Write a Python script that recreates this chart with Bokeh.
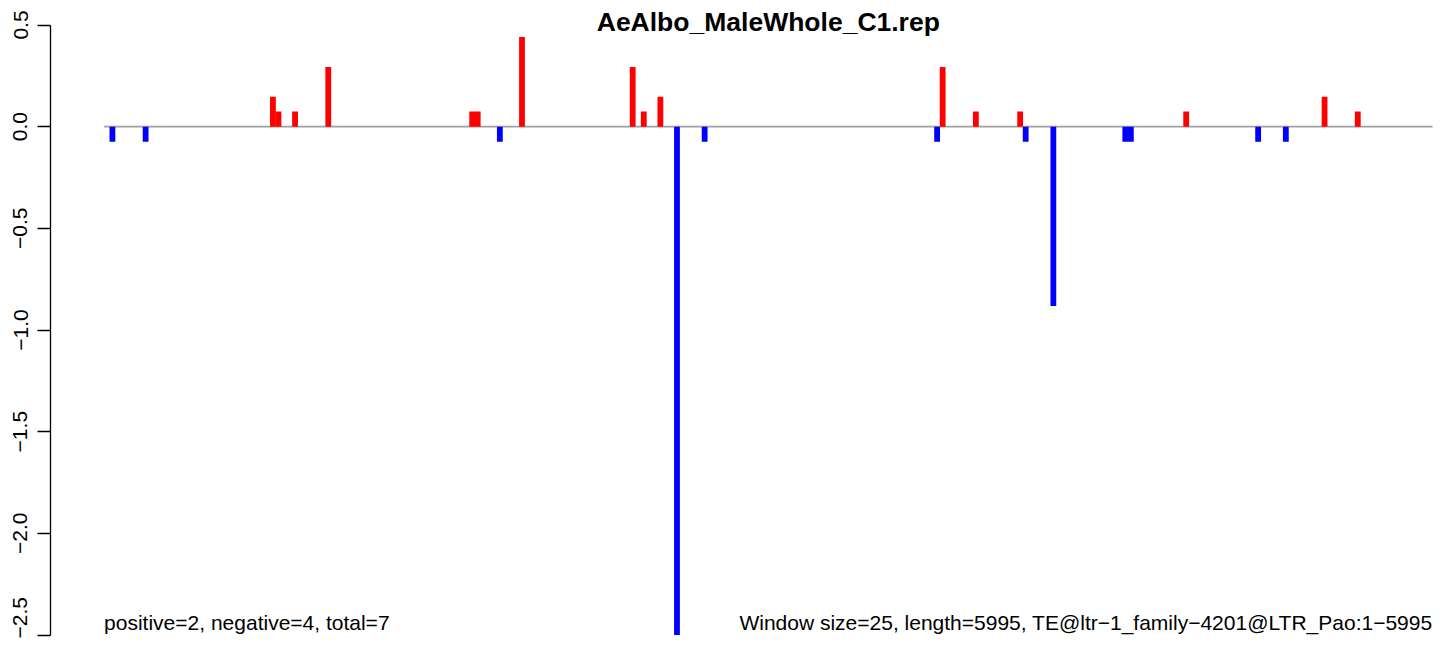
from bokeh.plotting import figure
from bokeh.models import Range1d, LinearAxis, FixedTicker, CustomJSTickFormatter
from bokeh.core.properties import value
from bokeh.embed import file_html
from bokeh.resources import INLINE

# ---------------- data ----------------
title_text = "AeAlbo_MaleWhole_C1.rep"
window_size = 25
seq_length = 5995
n_windows = 240

red_idx = [30, 31, 34, 40, 66, 67, 75, 95, 97, 100, 151, 157, 165, 195, 220, 226]
red_val = [0.147, 0.074, 0.074, 0.294, 0.074, 0.074, 0.441, 0.294, 0.074, 0.147,
           0.294, 0.074, 0.074, 0.074, 0.147, 0.074]
blue_idx = [1, 7, 71, 103, 108, 150, 166, 171, 184, 185, 208, 213]
blue_val = [-0.074, -0.074, -0.074, -2.5, -0.074, -0.074, -0.074, -0.882,
            -0.074, -0.074, -0.074, -0.074]

y_ticks = [-2.5, -2.0, -1.5, -1.0, -0.5, 0.0, 0.5]
y_min, y_max = -2.5, 0.5

left_note = "positive=2, negative=4, total=7"
right_note = "Window size=25, length=5995, TE@ltr\u22121_family\u22124201@LTR_Pao:1\u22125995"

# ---------------- layout ----------------
W, H = 1444, 638
frame_left = 50          # figure px where the y axis sits
px_x0, px_x1 = 103.6, 1432.0    # figure px of x=0 and x=n_windows
px_ytop, px_ybot = 24.5, 634.5  # figure px of y_max and y_min

sx = (px_x1 - px_x0) / n_windows
x_start = (frame_left - px_x0) / sx
x_end = (W - px_x0) / sx
sy = (px_ybot - px_ytop) / (y_max - y_min)
y_end = y_max + px_ytop / sy
y_start = y_min - (H - px_ybot) / sy

p = figure(width=W, height=H, output_backend="svg", toolbar_location=None,
           x_range=Range1d(x_start, x_end), y_range=Range1d(y_start, y_end),
           x_axis_type=None, y_axis_type=None,
           min_border_left=frame_left, min_border_right=0,
           min_border_top=0, min_border_bottom=0)
p.outline_line_color = None
p.xgrid.visible = False
p.ygrid.visible = False
p.background_fill_color = "white"
p.border_fill_color = "white"

yaxis = LinearAxis(bounds=(y_min, y_max),
                   ticker=FixedTicker(ticks=y_ticks),
                   formatter=CustomJSTickFormatter(code="return tick.toFixed(1).replace('-', '\u2212');"))
yaxis.major_tick_out = 13
yaxis.major_tick_in = 0
yaxis.minor_tick_line_color = None
yaxis.axis_line_color = "black"
yaxis.axis_line_width = 1.3
yaxis.major_tick_line_color = "black"
yaxis.major_tick_line_width = 1.3
yaxis.major_label_orientation = "vertical"
yaxis.major_label_standoff = 10
yaxis.major_label_text_font = "Liberation Sans"
yaxis.major_label_text_font_size = "21px"
yaxis.major_label_text_color = "black"
p.add_layout(yaxis, "left")

# zero line
p.segment(x0=[0], y0=[0], x1=[n_windows], y1=[0], line_color="#a0a0a0", line_width=1.6)

# bars
p.vbar(x=[i + 0.5 for i in red_idx], top=red_val, bottom=0, width=1.05,
       fill_color="#ff0000", line_color=None)
p.vbar(x=[i + 0.5 for i in blue_idx], top=blue_val, bottom=0, width=1.05,
       fill_color="#0000ff", line_color=None)

# title
p.text(x=[n_windows / 2], y=[y_end - 21 / sy], text=[title_text],
       text_align="center", text_baseline="alphabetic",
       text_font=value("Liberation Sans"), text_font_style="bold",
       text_font_size="26.5px", text_color="black")

# notes
note_y = y_end - 622 / sy
p.text(x=[0], y=[note_y], text=[left_note], text_align="left",
       text_baseline="alphabetic", text_font=value("Liberation Sans"),
       text_font_size="21px", text_color="black")
p.text(x=[n_windows], y=[note_y], text=[right_note], text_align="right",
       text_baseline="alphabetic", text_font=value("Liberation Sans"),
       text_font_size="21px", text_color="black")

open("out.html", "w").write(file_html(p, INLINE))
